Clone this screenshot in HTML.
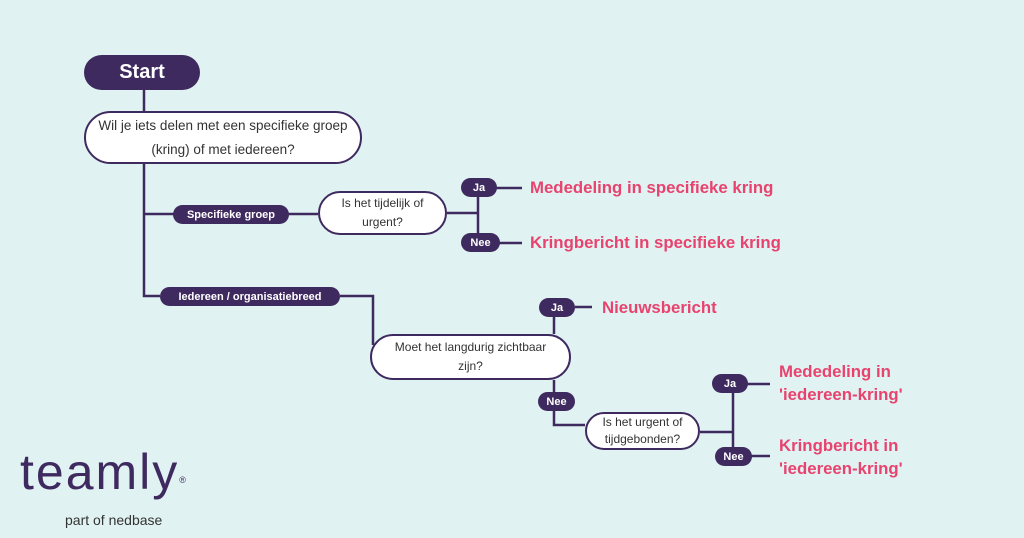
<!DOCTYPE html>
<html><head><meta charset="utf-8"><style>
body{margin:0;width:1024px;height:538px;background:#e0f3f2;position:relative;overflow:hidden;font-family:"Liberation Sans",sans-serif}
.a{position:absolute;box-sizing:border-box;display:flex;align-items:center;justify-content:center;text-align:center}
.p{background:#3f2a5f;color:#fff;font-weight:bold;font-size:11px;border-radius:10px}
.q{background:#fff;border:2.5px solid #3f2a5f;color:#333;font-size:12px;line-height:19px}
.r{position:absolute;color:#e8436f;font-weight:bold;font-size:16.8px;line-height:23px;white-space:nowrap}
svg{position:absolute;left:0;top:0}
</style></head><body>
<svg width="1024" height="538"><g stroke="#3f2a5f" stroke-width="2.5" fill="none">
<path d="M144 90V296H160"/><path d="M144 214H318"/>
<path d="M447 213H478M478 187V243M478 188H522M478 243H522"/>
<path d="M340 296H373V345"/>
<path d="M554 307V334M554 380V425H585M575 307H592"/>
<path d="M700 432H733M733 384V456M733 384H770M733 456H770"/>
</g></svg>
<div class="a" style="left:84px;top:55px;width:116px;height:35px;background:#3f2a5f;color:#fff;font-weight:bold;font-size:20px;border-radius:18px">Start</div>
<div class="a q" style="left:84px;top:111px;width:278px;height:53px;border-radius:30px;font-size:13.5px;line-height:24px">Wil je iets delen met een specifieke groep<br>(kring) of met iedereen?</div>
<div class="a p" style="left:173px;top:205px;width:116px;height:19px">Specifieke groep</div>
<div class="a q" style="left:318px;top:191px;width:129px;height:44px;border-radius:22px">Is het tijdelijk of<br>urgent?</div>
<div class="a p" style="left:461px;top:178px;width:36px;height:19px">Ja</div>
<div class="a p" style="left:461px;top:233px;width:39px;height:19px">Nee</div>
<div class="r" style="left:530px;top:176px">Mededeling in specifieke kring</div>
<div class="r" style="left:530px;top:231px">Kringbericht in specifieke kring</div>
<div class="a p" style="left:160px;top:287px;width:180px;height:19px">Iedereen / organisatiebreed</div>
<div class="a q" style="left:370px;top:334px;width:201px;height:46px;border-radius:23px">Moet het langdurig zichtbaar<br>zijn?</div>
<div class="a p" style="left:539px;top:298px;width:36px;height:19px">Ja</div>
<div class="r" style="left:602px;top:296px">Nieuwsbericht</div>
<div class="a p" style="left:538px;top:392px;width:37px;height:19px">Nee</div>
<div class="a q" style="left:585px;top:412px;width:115px;height:38px;border-radius:19px;line-height:17px">Is het urgent of<br>tijdgebonden?</div>
<div class="a p" style="left:712px;top:374px;width:36px;height:19px">Ja</div>
<div class="a p" style="left:715px;top:447px;width:37px;height:19px">Nee</div>
<div class="r" style="left:779px;top:360px">Mededeling in<br>'iedereen-kring'</div>
<div class="r" style="left:779px;top:434px">Kringbericht in<br>'iedereen-kring'</div>
<div style="position:absolute;left:20px;top:444px;color:#3f2a5f;font-size:50px;letter-spacing:2px;line-height:56px">teamly<span style="font-size:9px;vertical-align:top;position:relative;top:8px">®</span></div>
<div style="position:absolute;left:65px;top:512px;color:#333;font-size:14px">part of nedbase</div>
</body></html>
